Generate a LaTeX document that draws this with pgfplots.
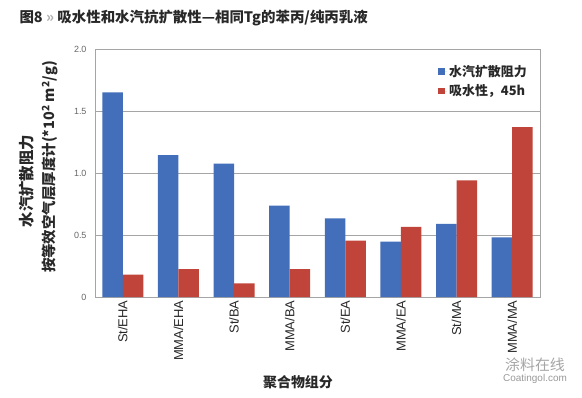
\documentclass[border=0pt]{standalone}
\usepackage{fontspec}
\usepackage{pgfplots}
\pgfplotsset{compat=1.18}
\setmainfont{Liberation Sans}
\newfontfamily\cjk{Noto Sans CJK SC}
\definecolor{barblue}{RGB}{66,110,186}
\definecolor{barred}{RGB}{192,68,58}
\definecolor{gridgray}{RGB}{165,165,165}
\definecolor{txt}{RGB}{40,40,40}
\begin{document}
\begin{tikzpicture}[x=1bp,y=1bp]
\path[use as bounding box] (0,0) rectangle (582,397);
\begin{axis}[
  at={(95bp,100bp)}, anchor=south west,
  scale only axis, width=445bp, height=248bp,
  ybar=0pt, bar width=20.5bp,
  xmin=-0.5, xmax=7.5, ymin=0, ymax=2,
  xtick={0,1,2,3,4,5,6,7},
  xticklabels={St/EHA,MMA/EHA,St/BA,MMA/BA,St/EA,MMA/EA,St/MA,MMA/MA},
  xticklabel style={rotate=90, anchor=east, font=\fontsize{13}{13}\selectfont, text=txt},
  ytick={0,0.5,1,1.5,2}, yticklabels={0,0.5,1.0,1.5,2.0},
  yticklabel style={font=\fontsize{9}{9}\selectfont, text=black!60, xshift=-5bp},
  ymajorgrids, grid style={gridgray, line width=0.8pt},
  axis line style={gridgray, line width=0.8pt},
  major tick length=0pt,
  legend style={draw=none, fill=none, at={(rel axis cs:1,1)}, anchor=north east,
    xshift=-8bp, yshift=-12bp, font=\cjk\bfseries\fontsize{13}{14}\selectfont,
    text=txt, row sep=3bp, cells={anchor=west}},
  legend image code/.code={\fill[#1] (0bp,-3.2bp) rectangle (6.5bp,3.2bp); \path (0bp,0bp) -- (9bp,0bp);},
]
\addplot[fill=barblue, draw=none] coordinates {(0,1.65) (1,1.145) (2,1.075) (3,0.736) (4,0.635) (5,0.446) (6,0.59) (7,0.48)};
\addplot[fill=barred, draw=none] coordinates {(0,0.18) (1,0.225) (2,0.11) (3,0.225) (4,0.454) (5,0.565) (6,0.94) (7,1.37)};
\legend{水汽扩散阻力,吸水性，45h}
\end{axis}
\node[anchor=west, font=\cjk\bfseries\fontsize{14.5}{15}\selectfont, text=txt] at (16,379) {图8 \textcolor{black!30}{»} 吸水性和水汽抗扩散性—相同Tg的苯丙/纯丙乳液};
\node[rotate=90, font=\cjk\bfseries\fontsize{15.5}{15}\selectfont, text=txt] at (27,216) {水汽扩散阻力};
\node[rotate=90, font=\cjk\bfseries\fontsize{14.5}{14}\selectfont, text=txt] at (50,230) {按等效空气层厚度计(*10\textsuperscript{2} m\textsuperscript{2}/g)};
\node[font=\cjk\bfseries\fontsize{14}{14}\selectfont, text=txt] at (298,15) {聚合物组分};
\node[font=\cjk\fontsize{15}{15}\selectfont, text=black!35] at (535,32) {涂料在线};
\node[font=\fontsize{10}{10}\selectfont, text=black!40] at (535,18) {Coatingol.com};
\end{tikzpicture}
\end{document}
